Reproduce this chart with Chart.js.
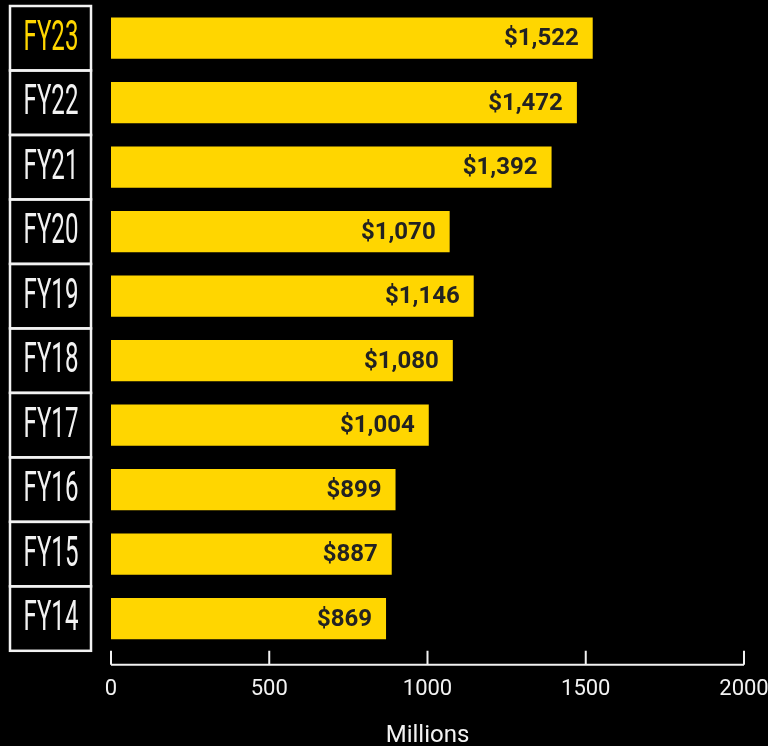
<!DOCTYPE html>
<html>
<head>
<meta charset="utf-8">
<script src="https://cdn.jsdelivr.net/npm/chart.js@4"></script>
<style>
	html, body { margin:0; padding:0; background:#000; }
	canvas { display:block; }
</style>
</head>
<body>
<canvas id="c" width="768" height="746"></canvas>
<script>
const tahun = ['FY23','FY22','FY21','FY20','FY19','FY18','FY17','FY16','FY15','FY14'];
const nilai = [1522, 1472, 1392, 1070, 1146, 1080, 1004, 899, 887, 869];
const xTicks = [0, 500, 1000, 1500, 2000];

const kuning = '#FFD600';
const putih = '#f2f2f2';

// kotak label tahun + label nilai + sumbu x dengan tick ke atas
const hiasan = {
	id: 'hiasan',
	afterDraw: c => {
		const x = c.ctx, a = c.chartArea, sy = c.scales.y, sx = c.scales.x;
		const step = sy.getPixelForValue(1) - sy.getPixelForValue(0);
		x.save();

		// kotak tahun
		x.strokeStyle = putih;
		x.lineWidth = 2.5;
		tahun.forEach((t,i) => {
			const cy = sy.getPixelForValue(i);
			x.strokeRect(10, cy - step/2, 81, step);
			x.save();
			x.translate(51, cy + 1);
			x.scale(0.56, 1);
			x.font = '400 43px Roboto';
			x.fillStyle = i == 0 ? kuning : putih;
			x.textAlign = 'center';
			x.textBaseline = 'middle';
			x.fillText(t, 0, 0);
			x.restore();
		});

		// nilai di ujung batang
		x.font = 'bold 24px Roboto';
		x.fillStyle = '#222';
		x.textAlign = 'right';
		x.textBaseline = 'middle';
		c.getDatasetMeta(0).data.forEach((b,i) => {
			x.fillText('$' + nilai[i].toLocaleString('en-US'), b.x - 14, b.y + 1);
		});

		// sumbu x
		const y0 = a.bottom + 14;
		x.strokeStyle = putih;
		x.lineWidth = 2;
		x.beginPath();
		x.moveTo(sx.getPixelForValue(xTicks[0]), y0);
		x.lineTo(sx.getPixelForValue(xTicks[xTicks.length-1]), y0);
		xTicks.forEach(v => {
			const px = sx.getPixelForValue(v);
			x.moveTo(px, y0);
			x.lineTo(px, a.bottom);
		});
		x.stroke();
		x.restore();
	}
};

new Chart(document.getElementById('c'), {
	type: 'bar',
	data: {
		labels: tahun,
		datasets: [{
			data: nilai,
			backgroundColor: kuning,
			borderWidth: 0,
			barPercentage: 0.64,
			categoryPercentage: 1,
		}]
	},
	options: {
		indexAxis: 'y',
		responsive: false,
		animation: false,
		layout: { padding: { left: 111, top: 6, right: 0, bottom: 0 } },
		plugins: {
			legend: { display: false },
			tooltip: { enabled: false },
		},
		scales: {
			y: { display: false },
			x: {
				min: 0,
				max: 2000,
				afterBuildTicks: s => { s.ticks = xTicks.map(v => ({ value: v })) },
				// label 2000 boleh terpotong di tepi kanan
				afterFit: s => { s.paddingRight = 24 },
				grid: { display: false, drawTicks: false },
				border: { display: false },
				ticks: {
					color: putih,
					font: { family: 'Roboto', size: 22 },
					padding: 25,
					maxRotation: 0,
					callback: v => String(v),
				},
				title: {
					display: true,
					text: 'Millions',
					color: putih,
					font: { family: 'Roboto', size: 24 },
					padding: { top: -6, bottom: -4 },
				}
			}
		}
	},
	plugins: [hiasan]
});
</script>
</body>
</html>
